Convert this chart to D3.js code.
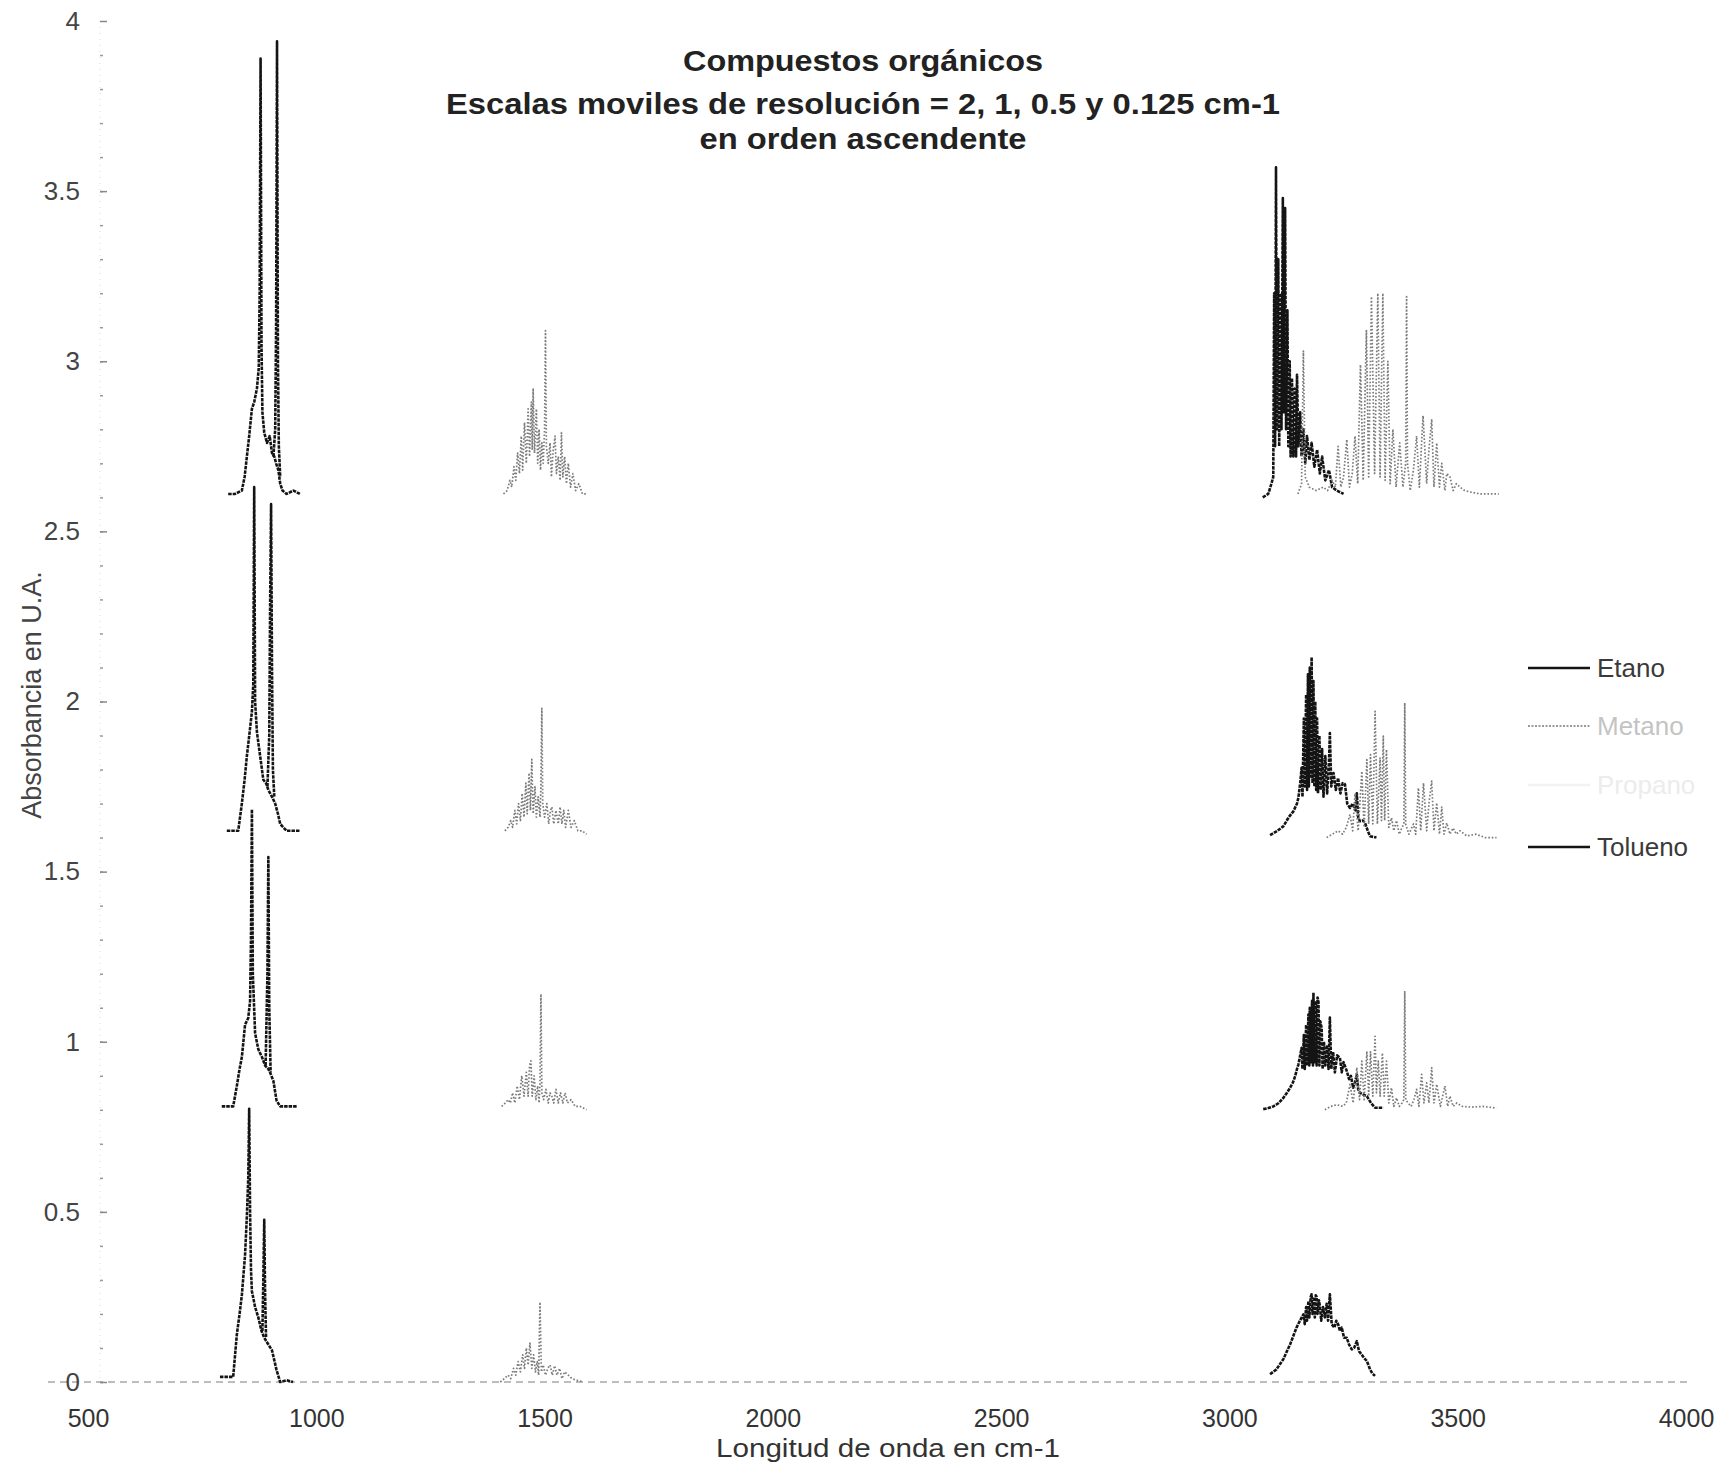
<!DOCTYPE html>
<html><head><meta charset="utf-8">
<script src="https://cdn.jsdelivr.net/npm/d3@7"></script>
<style>
body{margin:0;background:#fff}
text{font-family:"Liberation Sans",Arial,sans-serif}
</style>
</head><body>
<svg id="chart" width="1722" height="1464"></svg>
<script>
// ---------- Labels / ticks ----------
const titleLines = ["Compuestos orgánicos", "Escalas moviles de resolución = 2, 1, 0.5 y  0.125 cm-1", "en orden ascendente"];
const xLabel = "Longitud de onda en cm-1";
const yLabel = "Absorbancia en U.A.";
const xTicks = [500, 1000, 1500, 2000, 2500, 3000, 3500, 4000];
const yTicks = [0, 0.5, 1, 1.5, 2, 2.5, 3, 3.5, 4];
const seriesNames = ["Etano", "Metano", "Propano", "Tolueno"];

// ---------- Data: [wavenumber cm-1, absorbance U.A.] ----------
// resolution 2 cm-1 (bottom)
const etano_r2_850 = [[789,0.015],[805,0.015],[818,0.015],[826,0.14],[832,0.2],[837,0.256],[844,0.373],[848,0.489],[851,0.6],[853,0.803],[855,0.5],[857,0.33],[859,0.267],[866,0.22],[873,0.19],[880,0.15],[886,0.13],[892,0.117],[903,0.093],[913,0.035],[921,0.0],[935,0.005],[949,0.0]];
const tolueno_r2_890 = [[882,0.15],[884,0.3],[886,0.477],[888,0.25],[890,0.13]];
const metano_r2_1500 = [[1403,0.0],[1412,0.01],[1420,0.02],[1426,0.01],[1432,0.04],[1437,0.02],[1442,0.06],[1447,0.03],[1452,0.08],[1456,0.04],[1460,0.1],[1464,0.05],[1468,0.114],[1472,0.04],[1476,0.08],[1480,0.03],[1484,0.06],[1487,0.02],[1490,0.235],[1493,0.03],[1497,0.05],[1502,0.02],[1507,0.04],[1512,0.05],[1517,0.02],[1522,0.048],[1527,0.02],[1533,0.04],[1538,0.01],[1544,0.03],[1552,0.02],[1560,0.01],[1570,0.005],[1585,0.0]];
const etano_r2_3200 = [[3089,0.023],[3103,0.037],[3118,0.067],[3133,0.111],[3147,0.16],[3154,0.179],[3162,0.199],[3165,0.17],[3168,0.22],[3170,0.18],[3173,0.238],[3175,0.19],[3178,0.25],[3180,0.258],[3182,0.2],[3185,0.25],[3187,0.19],[3189,0.255],[3191,0.25],[3193,0.2],[3196,0.24],[3198,0.225],[3201,0.18],[3205,0.22],[3209,0.19],[3213,0.23],[3216,0.18],[3220,0.258],[3224,0.17],[3230,0.16],[3234,0.18],[3238,0.17],[3242,0.15],[3246,0.16],[3251,0.13],[3257,0.13],[3262,0.11],[3268,0.096],[3273,0.1],[3279,0.12],[3284,0.09],[3290,0.08],[3295,0.07],[3301,0.062],[3308,0.037],[3313,0.025],[3319,0.018]];

// resolution 1 cm-1
const etano_r1_850 = [[793,0.81],[806,0.81],[818,0.81],[826,0.87],[832,0.92],[837,0.955],[844,1.05],[851,1.07],[855,1.12],[857,1.3],[859,1.683],[861,1.2],[866,1.025],[873,0.978],[881,0.955],[888,0.93],[895,0.92],[899,0.909],[906,0.885],[913,0.827],[921,0.81],[935,0.81],[957,0.81]];
const tolueno_r1_890 = [[889,0.93],[893,1.2],[895,1.543],[897,1.1],[900,0.91]];
const metano_r1_1500 = [[1406,0.81],[1414,0.82],[1420,0.83],[1425,0.82],[1430,0.85],[1435,0.82],[1440,0.87],[1445,0.83],[1450,0.9],[1455,0.84],[1460,0.91],[1464,0.84],[1467,0.93],[1470,0.944],[1473,0.84],[1477,0.9],[1481,0.83],[1485,0.87],[1488,0.82],[1490,0.88],[1492,1.14],[1494,0.85],[1498,0.83],[1503,0.86],[1508,0.82],[1512,0.85],[1516,0.84],[1520,0.82],[1525,0.86],[1530,0.82],[1535,0.85],[1540,0.82],[1545,0.85],[1550,0.82],[1558,0.83],[1567,0.81],[1578,0.81],[1592,0.80]];
const etano_r1_3200 = [[3074,0.802],[3085,0.805],[3096,0.81],[3108,0.82],[3118,0.835],[3126,0.85],[3133,0.865],[3139,0.88],[3144,0.899],[3148,0.92],[3151,0.933],[3155,0.96],[3158,0.982],[3160,0.92],[3163,1.02],[3165,0.92],[3168,1.05],[3170,0.93],[3173,1.08],[3175,0.93],[3176,1.1],[3178,0.94],[3181,1.12],[3183,0.93],[3184,1.144],[3186,0.94],[3189,1.12],[3191,0.93],[3193,1.13],[3195,1.119],[3197,0.93],[3199,1.06],[3202,1.04],[3204,0.92],[3207,1.0],[3210,0.93],[3214,0.99],[3217,0.92],[3220,1.071],[3223,0.92],[3227,0.97],[3231,0.91],[3236,0.96],[3242,0.953],[3246,0.91],[3250,0.94],[3257,0.914],[3262,0.89],[3266,0.9],[3271,0.865],[3275,0.88],[3279,0.904],[3282,0.86],[3286,0.85],[3293,0.845],[3301,0.84],[3310,0.82],[3319,0.806],[3337,0.806]];
const metano_r1_3400 = [[3209,0.80],[3222,0.81],[3235,0.815],[3248,0.81],[3256,0.82],[3264,0.875],[3271,0.82],[3279,0.924],[3285,0.83],[3290,0.943],[3295,0.83],[3301,0.972],[3305,0.84],[3309,0.97],[3314,0.84],[3319,1.016],[3322,0.85],[3326,0.943],[3330,0.84],[3335,0.967],[3339,0.84],[3344,0.943],[3349,0.82],[3355,0.865],[3360,0.81],[3366,0.835],[3372,0.81],[3378,0.82],[3382,0.83],[3384,1.149],[3386,0.83],[3391,0.82],[3398,0.81],[3404,0.83],[3410,0.86],[3415,0.81],[3421,0.904],[3426,0.82],[3432,0.879],[3437,0.82],[3443,0.924],[3448,0.82],[3454,0.875],[3462,0.81],[3467,0.84],[3472,0.87],[3478,0.81],[3483,0.84],[3490,0.81],[3498,0.82],[3510,0.81],[3530,0.808],[3555,0.81],[3585,0.805]];

// resolution 0.5 cm-1
const etano_r05_850 = [[804,1.62],[818,1.62],[829,1.62],[833,1.66],[837,1.70],[843,1.77],[848,1.84],[854,1.91],[859,1.97],[862,2.05],[864,2.63],[866,2.0],[870,1.91],[877,1.84],[884,1.77],[890,1.76],[895,1.74],[903,1.72],[910,1.70],[916,1.67],[921,1.64],[928,1.63],[935,1.62],[950,1.62],[964,1.62]];
const tolueno_r05_900 = [[893,1.75],[897,1.9],[899,2.3],[901,2.58],[903,2.1],[905,1.8],[908,1.72]];
const metano_r05_1500 = [[1413,1.62],[1420,1.63],[1426,1.65],[1430,1.63],[1435,1.68],[1439,1.64],[1443,1.70],[1447,1.65],[1451,1.73],[1455,1.66],[1459,1.76],[1462,1.67],[1466,1.79],[1469,1.68],[1472,1.83],[1475,1.67],[1479,1.75],[1482,1.66],[1486,1.72],[1490,1.66],[1492,1.75],[1494,1.98],[1496,1.70],[1500,1.66],[1505,1.70],[1509,1.64],[1513,1.68],[1516,1.69],[1520,1.64],[1525,1.68],[1530,1.64],[1534,1.69],[1538,1.64],[1542,1.68],[1546,1.63],[1552,1.68],[1558,1.63],[1565,1.65],[1573,1.62],[1582,1.62],[1592,1.61]];
const etano_r05_3200 = [[3089,1.607],[3105,1.62],[3118,1.633],[3130,1.66],[3140,1.677],[3148,1.70],[3151,1.717],[3155,1.76],[3158,1.805],[3160,1.72],[3163,1.95],[3165,1.75],[3168,2.02],[3170,1.74],[3172,2.08],[3174,1.75],[3176,2.10],[3178,1.78],[3180,2.13],[3182,1.76],[3184,2.06],[3186,1.75],[3188,2.0],[3190,1.74],[3192,1.95],[3194,1.73],[3197,1.90],[3200,1.74],[3203,1.86],[3206,1.72],[3210,1.84],[3214,1.73],[3218,1.82],[3220,1.907],[3223,1.75],[3228,1.79],[3233,1.74],[3238,1.775],[3243,1.73],[3248,1.76],[3253,1.757],[3258,1.70],[3264,1.687],[3270,1.70],[3276,1.68],[3279,1.73],[3282,1.66],[3286,1.648],[3292,1.65],[3297,1.643],[3303,1.62],[3308,1.604],[3322,1.60]];
const metano_r05_3400 = [[3213,1.60],[3225,1.61],[3238,1.62],[3248,1.61],[3256,1.63],[3264,1.668],[3270,1.62],[3275,1.73],[3282,1.62],[3290,1.795],[3295,1.63],[3301,1.829],[3305,1.64],[3309,1.844],[3314,1.64],[3319,1.971],[3324,1.64],[3330,1.834],[3333,1.65],[3337,1.898],[3340,1.65],[3344,1.859],[3349,1.63],[3355,1.658],[3360,1.62],[3366,1.65],[3372,1.61],[3378,1.63],[3382,1.64],[3384,1.996],[3386,1.64],[3393,1.61],[3403,1.64],[3408,1.61],[3414,1.746],[3419,1.62],[3425,1.76],[3432,1.62],[3437,1.70],[3443,1.766],[3448,1.62],[3454,1.702],[3460,1.61],[3465,1.69],[3470,1.61],[3476,1.643],[3483,1.61],[3490,1.628],[3497,1.61],[3505,1.62],[3520,1.605],[3540,1.61],[3560,1.60],[3585,1.60]];

// resolution 0.125 cm-1 (top)
const etano_r0125_870 = [[807,2.61],[822,2.61],[837,2.62],[843,2.66],[848,2.72],[853,2.78],[859,2.86],[864,2.88],[870,2.92],[874,2.98],[876,3.2],[878,3.89],[880,3.05],[882,2.85],[886,2.79],[892,2.76],[898,2.78],[903,2.73],[908,2.72],[912,2.7],[917,2.68],[921,2.64],[926,2.62],[935,2.61],[950,2.62],[964,2.61]];
const tolueno_r0125_914 = [[906,2.72],[910,2.8],[912,3.1],[914,3.94],[916,3.0],[918,2.75],[921,2.66]];
const metano_r0125_1500 = [[1410,2.61],[1418,2.62],[1424,2.65],[1428,2.63],[1433,2.69],[1437,2.65],[1441,2.73],[1445,2.67],[1449,2.78],[1452,2.68],[1456,2.82],[1460,2.7],[1464,2.86],[1467,2.72],[1471,2.88],[1473,2.74],[1475,2.92],[1478,2.73],[1482,2.86],[1485,2.7],[1488,2.8],[1491,2.68],[1494,2.76],[1497,2.7],[1500,2.8],[1502,3.09],[1504,2.75],[1508,2.7],[1512,2.76],[1515,2.66],[1519,2.74],[1523,2.78],[1526,2.67],[1530,2.72],[1534,2.65],[1537,2.79],[1540,2.66],[1544,2.72],[1548,2.64],[1552,2.7],[1557,2.63],[1562,2.67],[1568,2.62],[1575,2.64],[1583,2.61],[1592,2.61]];
const etano_r0125_3100 = [[3073,2.6],[3085,2.61],[3092,2.64],[3096,2.66],[3098,3.2],[3100,2.75],[3102,3.57],[3104,2.8],[3107,3.3],[3109,2.75],[3112,3.2],[3114,2.8],[3117,3.48],[3119,2.85],[3122,3.45],[3124,2.8],[3127,3.15],[3129,2.75],[3132,3.0],[3134,2.72],[3137,2.95],[3140,2.72],[3143,2.92],[3146,2.72],[3148,2.96],[3151,2.75],[3155,2.85],[3158,2.72],[3162,2.8],[3166,2.7],[3170,2.78],[3175,2.71],[3180,2.76],[3186,2.69],[3192,2.74],[3198,2.67],[3203,2.72],[3210,2.65],[3218,2.68],[3225,2.63],[3235,2.62],[3250,2.61]];
const metano_r0125_3400 = [[3150,2.61],[3158,2.64],[3162,3.03],[3166,2.66],[3175,2.63],[3190,2.62],[3205,2.63],[3215,2.62],[3225,2.65],[3232,2.63],[3238,2.75],[3244,2.63],[3250,2.66],[3257,2.77],[3263,2.63],[3269,2.67],[3275,2.78],[3281,2.64],[3287,2.99],[3293,2.65],[3300,3.09],[3305,2.66],[3311,3.19],[3318,2.67],[3325,3.2],[3330,2.66],[3336,3.2],[3341,2.65],[3347,3.0],[3352,2.64],[3358,2.8],[3365,2.63],[3373,2.76],[3380,2.63],[3386,2.7],[3388,3.19],[3390,2.7],[3396,2.62],[3403,2.68],[3410,2.78],[3416,2.63],[3424,2.84],[3432,2.64],[3437,2.74],[3443,2.83],[3448,2.63],[3454,2.76],[3460,2.63],[3465,2.7],[3472,2.62],[3476,2.67],[3483,2.66],[3490,2.62],[3497,2.64],[3505,2.63],[3515,2.62],[3530,2.615],[3550,2.61],[3570,2.61],[3590,2.61]];

// ---------- Series table built from the arrays ----------
const series = [
  {name: "Etano",   color: "#141414", width: 2.6, dash: "3.5 1",   segs: [etano_r2_850, etano_r1_850, etano_r05_850, etano_r0125_870, etano_r2_3200, etano_r1_3200, etano_r05_3200, etano_r0125_3100]},
  {name: "Metano",  color: "#7a7a7a", width: 1.7, dash: "1.6 1.9", segs: [metano_r2_1500, metano_r1_1500, metano_r05_1500, metano_r0125_1500, metano_r1_3400, metano_r05_3400, metano_r0125_3400]},
  {name: "Propano", color: "#f2f2f2", width: 1.2, dash: "1 3",     segs: []},
  {name: "Tolueno", color: "#141414", width: 2.6, dash: "3.5 1",   segs: [tolueno_r2_890, tolueno_r1_890, tolueno_r05_900, tolueno_r0125_914]}
];
const legendText = {"Etano": "#3a3a3a", "Metano": "#c4c4c4", "Propano": "#ececec", "Tolueno": "#3a3a3a"};

// ---------- Drawing ----------
const svg = d3.select("#chart");
svg.append("rect").attr("width", 1722).attr("height", 1464).attr("fill", "#fff");

const x = d3.scaleLinear().domain([500, 4000]).range([88, 1686]);
const y = d3.scaleLinear().domain([0, 4]).range([1382, 21]);
const axisX = 100;

// x axis baseline (dashed, light)
svg.append("line").attr("x1", 48).attr("x2", 1690).attr("y1", y(0)).attr("y2", y(0))
  .attr("stroke", "#a8a8a8").attr("stroke-width", 1.3).attr("stroke-dasharray", "7 5");

// x axis labels
const gx = svg.append("g").attr("transform", `translate(0,${y(0)})`)
  .call(d3.axisBottom(x).tickValues(xTicks).tickSize(0).tickPadding(27).tickFormat(d3.format("d")));
gx.select(".domain").remove();
gx.selectAll("text").attr("font-size", 25).attr("fill", "#333").attr("font-family", "Liberation Sans, Arial, sans-serif");

// y axis: faint dotted line, minor + major ticks
svg.append("line").attr("x1", axisX).attr("x2", axisX).attr("y1", y(4)).attr("y2", y(0))
  .attr("stroke", "#d8d8d8").attr("stroke-width", 1).attr("stroke-dasharray", "1 5");
const gyMinor = svg.append("g").attr("transform", `translate(${axisX},0)`)
  .call(d3.axisRight(y).tickValues(d3.range(0, 40).map(i => i / 10)).tickSize(3).tickFormat(""));
gyMinor.select(".domain").remove();
gyMinor.selectAll("line").attr("stroke", "#9a9a9a").attr("stroke-width", 1.5);
const gy = svg.append("g").attr("transform", `translate(${axisX},0)`)
  .call(d3.axisLeft(y).tickValues(yTicks).tickSize(-7).tickPadding(20).tickFormat(d => String(d)));
gy.select(".domain").remove();
gy.selectAll("line").attr("stroke", "#888").attr("stroke-width", 1.5);
gy.selectAll("text").attr("font-size", 26).attr("fill", "#444").attr("font-family", "Liberation Sans, Arial, sans-serif");

// spectra
const line = d3.line().x(d => x(d[0])).y(d => y(d[1]));
series.forEach(s => {
  const g = svg.append("g").attr("class", "series");
  g.selectAll("path").data(s.segs).join("path")
    .attr("d", line).attr("fill", "none")
    .attr("stroke", s.color).attr("stroke-width", s.width)
    .attr("stroke-dasharray", s.dash).attr("stroke-linejoin", "round");
});

// title (scanned original is horizontally wide: match measured widths)
const titleWidths = [360, 834, 327];
svg.append("g").selectAll("text").data(titleLines).join("text")
  .attr("x", 863).attr("y", (d, i) => [71, 114, 149][i])
  .attr("text-anchor", "middle").attr("font-size", 29).attr("font-weight", "bold").attr("fill", "#222")
  .attr("textLength", (d, i) => titleWidths[i]).attr("lengthAdjust", "spacingAndGlyphs")
  .text(d => d);

// axis titles
svg.append("text").attr("x", 888).attr("y", 1457).attr("text-anchor", "middle")
  .attr("font-size", 26).attr("fill", "#333")
  .attr("textLength", 344).attr("lengthAdjust", "spacingAndGlyphs").text(xLabel);
svg.append("text").attr("transform", "translate(41,695) rotate(-90)").attr("text-anchor", "middle")
  .attr("font-size", 27).attr("fill", "#444").text(yLabel);

// legend
const legY = [668, 726, 785, 847];
const leg = svg.append("g").selectAll("g").data(series).join("g")
  .attr("transform", (d, i) => `translate(1528,${legY[i]})`);
leg.append("line").attr("x1", 0).attr("x2", 62).attr("y1", 0).attr("y2", 0)
  .attr("stroke", d => d.color).attr("stroke-width", d => d.name === "Metano" ? 1.6 : 2.4)
  .attr("stroke-dasharray", d => d.name === "Metano" ? "2 1.5" : null);
leg.append("text").attr("x", 69).attr("y", 0).attr("dy", "0.35em")
  .attr("font-size", 26).attr("fill", d => legendText[d.name]).text(d => d.name);
</script>
</body></html>
